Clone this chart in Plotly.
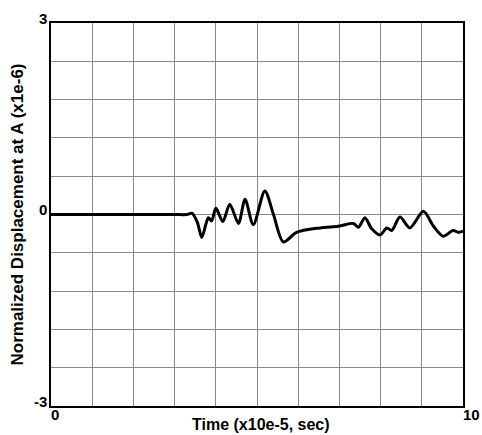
import plotly.graph_objects as go

# Time samples (x10e-5 s) and normalized displacement at A (x1e-6)
time = [0, 1, 2, 3, 3.3, 3.42, 3.55, 3.66, 3.76, 3.82, 3.90, 4.00, 4.17, 4.34,
        4.55, 4.71, 4.91, 5.19, 5.40, 5.64, 5.96, 6.53, 7.01, 7.34, 7.46, 7.62,
        7.78, 7.99, 8.15, 8.27, 8.47, 8.71, 9.04, 9.28, 9.52, 9.76, 9.89, 10]
displacement = [0, 0, 0, 0, 0, 0.02, -0.12, -0.36, -0.15, -0.05, -0.10, 0.10,
                -0.11, 0.16, -0.14, 0.24, -0.16, 0.37, 0.0, -0.43, -0.28, -0.21,
                -0.18, -0.14, -0.20, -0.05, -0.22, -0.32, -0.21, -0.25, -0.04,
                -0.21, 0.05, -0.18, -0.34, -0.25, -0.28, -0.26]

x_range = [0, 10]
y_range = [-3, 3]
x_tick_labels = ["0", "10"]
y_tick_labels = ["3", "0", "-3"]
y_tick_values = [3, 0, -3]

FONT = "Liberation Sans, Arial, sans-serif"


def bold_font(size):
    return dict(family=FONT, size=size, color="black", weight="bold")


fig = go.Figure()
fig.add_trace(go.Scatter(
    x=time, y=displacement, mode="lines",
    line=dict(color="black", width=3, shape="spline", smoothing=0.8),
    hoverinfo="skip", showlegend=False,
))

axis_common = dict(
    showgrid=True, gridcolor="#8a8a8a", gridwidth=1,
    showline=True, linecolor="black", linewidth=2, mirror=True,
    zeroline=False, showticklabels=False, ticks="",
)
fig.update_xaxes(range=x_range, dtick=1, tick0=0, **axis_common)
fig.update_yaxes(range=y_range, dtick=0.6, tick0=-3, **axis_common)

annotations = []
# y-axis end/zero labels, right-aligned just left of the frame, raised slightly
for val, txt in zip(y_tick_values, y_tick_labels):
    annotations.append(dict(
        x=0, y=val, xref="x", yref="y", text=f"<b>{txt}</b>",
        showarrow=False, xanchor="right", yanchor="middle",
        xshift=-2, yshift=5, font=bold_font(15),
    ))
# x-axis end labels, offset down and right of the frame corners
for val, txt in zip(x_range, x_tick_labels):
    annotations.append(dict(
        x=val, y=-3, xref="x", yref="y", text=f"<b>{txt}</b>",
        showarrow=False, xanchor="left", yanchor="top",
        xshift=-2, yshift=2, font=bold_font(15),
    ))
# axis titles
annotations.append(dict(
    x=0.51, y=-3, xref="paper", yref="y", text="<b>Time (x10e-5, sec)</b>",
    showarrow=False, xanchor="center", yanchor="top", yshift=-8,
    font=bold_font(16),
))
annotations.append(dict(
    x=0, y=0, xref="paper", yref="y",
    text="<b>Normalized Displacement at A (x1e-6)</b>",
    showarrow=False, textangle=-90, xanchor="center", yanchor="middle",
    xshift=-34, font=bold_font(17),
))

fig.update_layout(
    width=482, height=435,
    margin=dict(l=51, r=19, t=23, b=29),
    paper_bgcolor="white", plot_bgcolor="white",
    annotations=annotations,
)

fig.write_html("out.html")
